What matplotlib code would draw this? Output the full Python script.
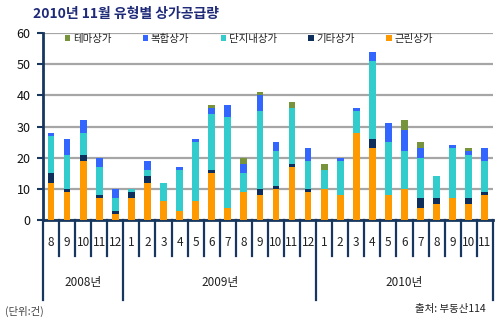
import numpy as np
import matplotlib
matplotlib.use("Agg")
import matplotlib.pyplot as plt
import matplotlib.transforms as mtransforms

plt.rcParams['font.family'] = ['Noto Sans CJK KR', 'DejaVu Sans']
plt.rcParams['axes.unicode_minus'] = False

# 2008.8 ~ 2010.11 월별 데이터
months = ['8', '9', '10', '11', '12',
          '1', '2', '3', '4', '5', '6', '7', '8', '9', '10', '11', '12',
          '1', '2', '3', '4', '5', '6', '7', '8', '9', '10', '11']
years = ['2008년', '2009년', '2010년']
year_len = [5, 12, 11]

geunrin = [12, 9, 19, 7, 2, 7, 12, 6, 3, 6, 15, 4, 9, 8, 10, 17, 9,
           10, 8, 28, 23, 8, 10, 4, 5, 7, 5, 8]
gita = [3, 1, 2, 1, 1, 2, 2, 0, 0, 0, 1, 0, 0, 2, 1, 1, 1,
        0, 0, 0, 3, 0, 0, 3, 2, 0, 2, 1]
danji = [12, 11, 7, 9, 4, 1, 2, 6, 13, 19, 18, 29, 6, 25, 11, 18, 9,
         6, 11, 7, 25, 17, 12, 13, 7, 16, 14, 10]
bokhap = [1, 5, 4, 3, 3, 0, 3, 0, 1, 1, 2, 4, 3, 5, 3, 0, 4,
          0, 1, 1, 3, 6, 7, 3, 0, 1, 1, 4]
thema = [0, 0, 0, 0, 0, 0, 0, 0, 0, 0, 1, 0, 2, 1, 0, 2, 0,
         2, 0, 0, 0, 0, 3, 2, 0, 0, 1, 0]

series = [('근린상가', geunrin, '#FF9900'),
          ('기타상가', gita, '#0E2F5C'),
          ('단지내상가', danji, '#33CCCC'),
          ('복합상가', bokhap, '#3366FF'),
          ('테마상가', thema, '#77933C')]

navy = '#17375E'

fig = plt.figure(figsize=(5.01, 3.24), dpi=100)
ax = fig.add_axes([0.0858, 0.321, 0.898, 0.577])

xx = np.arange(len(months))
bottom = np.zeros(len(months))
handles = {}
for name, vals, col in series:
    b = ax.bar(xx, vals, 0.42, bottom=bottom, color=col, edgecolor='none', zorder=3)
    handles[name] = b
    bottom = bottom + np.array(vals)

ax.set_xlim(-0.5, len(months) - 0.5)
ax.set_ylim(0, 60)
ax.set_yticks(range(0, 61, 10))
ax.yaxis.grid(True, color='#A6A6A6', lw=1.6, zorder=0)
ax.set_axisbelow(True)
for s in ['top', 'right']:
    ax.spines[s].set_visible(False)
ax.spines['left'].set_color(navy)
ax.spines['left'].set_linewidth(2)
ax.spines['bottom'].set_color(navy)
ax.spines['bottom'].set_linewidth(2)
ax.tick_params(axis='y', colors=navy, length=4, width=1.5, labelsize=9,
               labelcolor='#111111', pad=5)
ax.set_xticks([])

# x축 구분선과 라벨
trans = mtransforms.blended_transform_factory(ax.transData, ax.transAxes)
year_edges = np.cumsum([0] + year_len)
for i in range(len(months) + 1):
    low = -0.428 if i in year_edges else -0.193
    ax.plot([i - 0.5, i - 0.5], [0, low], color=navy, lw=1.6,
            transform=trans, clip_on=False)
for i, m in enumerate(months):
    ax.text(i, -0.118, m, transform=trans, ha='center', va='center',
            fontsize=8.5, color='#222222')
for k, y in enumerate(years):
    c = (year_edges[k] + year_edges[k + 1]) / 2 - 0.5
    ax.text(c, -0.337, y, transform=trans, ha='center', va='center',
            fontsize=8.5, color='#222222')

# 범례
order = ['테마상가', '복합상가', '단지내상가', '기타상가', '근린상가']
leg = ax.legend([handles[n] for n in order], order, loc='upper left',
                bbox_to_anchor=(0.027, 1.045), ncol=5, frameon=False,
                fontsize=7.5, handlelength=0.5, handleheight=0.5,
                columnspacing=3.0, handletextpad=0.3)
for t in leg.get_texts():
    t.set_color('#222222')

fig.text(0.066, 0.958, '2010년 11월 유형별 상가공급량', fontsize=10,
         fontweight='bold', color='#1F2A78', va='center')
fig.text(0.01, 0.04, '(단위:건)', fontsize=7.5, color='#444444', va='center')
fig.text(0.97, 0.045, '출처: 부동산114', fontsize=7.5, color='#222222',
         va='center', ha='right')

plt.savefig('out.png', dpi=100)
